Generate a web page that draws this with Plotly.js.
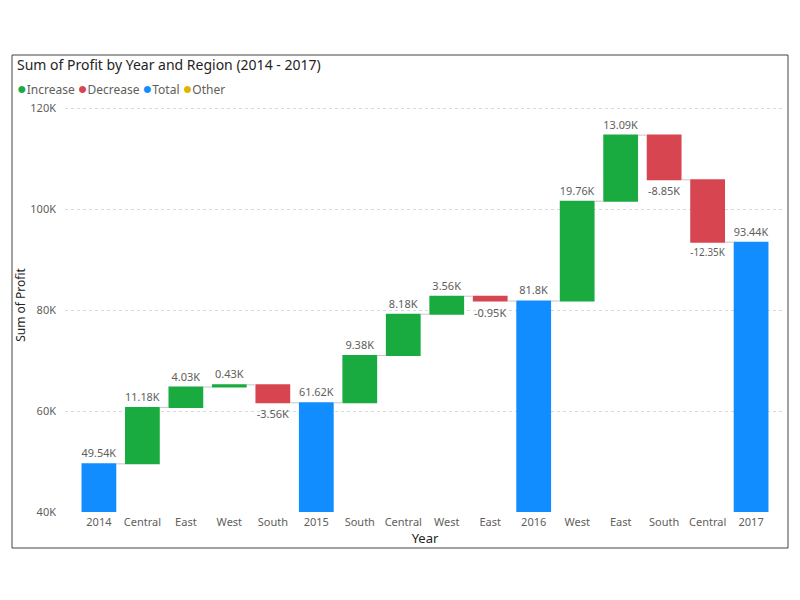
<!DOCTYPE html>
<html>
<head>
<meta charset="utf-8">
<script src="https://cdn.plot.ly/plotly-3.0.1.min.js"></script>
<style>
html,body{margin:0;padding:0;background:#fff;}
#chart{width:800px;height:600px;}
</style>
</head>
<body>
<div id="chart"></div>
<script>
const categories = ["2014","Central","East","West","South","2015","South","Central","West","East","2016","West","East","South","Central","2017"];
const measures = ["absolute","relative","relative","relative","relative","absolute","relative","relative","relative","relative","absolute","relative","relative","relative","relative","absolute"];
const values = [49540, 11180, 4030, 430, -3560, 61620, 9380, 8180, 3560, -950, 81800, 19760, 13090, -8850, -12350, 93440];
const yTickVals = [40000, 60000, 80000, 100000, 120000];
const yTickText = ["40K","60K","80K","100K","120K"];
const legendItems = ["Increase","Decrease","Total","Other"];
const legendColors = ["#1AAB40","#D64550","#118DFF","#E0B400"];

const positions = categories.map((c, i) => i);
const labels = values.map(v => (+(v / 1000).toFixed(2)) + "K");

const FONT = '"Segoe UI", "Noto Sans", "Open Sans", sans-serif';

const trace = {
  type: "waterfall",
  x: positions,
  y: values,
  measure: measures,
  text: labels,
  textposition: "outside",
  textfont: {family: FONT, size: 11, color: "#605E5C"},
  cliponaxis: false,
  increasing: {marker: {color: legendColors[0]}},
  decreasing: {marker: {color: legendColors[1]}},
  totals: {marker: {color: legendColors[2]}},
  connector: {line: {color: "#C8C6C4", width: 1}},
  showlegend: false,
  hoverinfo: "x+y"
};

const legendText = legendItems.map((t, i) =>
  '<span style="color:' + legendColors[i] + ';font-size:16px">●</span>' + t).join(' ');

const layout = {
  width: 800,
  height: 600,
  margin: {l: 65, r: 15, t: 98, b: 88},
  paper_bgcolor: "#fff",
  plot_bgcolor: "#fff",
  font: {family: FONT, color: "#605E5C"},
  bargap: 0.22,
  title: {
    text: "Sum of Profit by Year and Region (2014 - 2017)",
    x: 17 / 800, xanchor: "left",
    y: 1 - 65 / 600, yanchor: "middle",
    font: {family: FONT, size: 14, color: "#252423"}
  },
  xaxis: {
    range: [-0.78, 15.78],
    tickvals: positions,
    ticktext: categories,
    showgrid: false,
    zeroline: false,
    showline: false,
    ticks: "",
    ticklabelstandoff: 2,
    tickfont: {family: FONT, size: 11, color: "#605E5C"},
    title: {text: "Year", font: {family: FONT, size: 13, color: "#252423"}, standoff: 4}
  },
  yaxis: {
    range: [40000, 122000],
    tickvals: yTickVals,
    ticktext: yTickText,
    showgrid: true,
    gridcolor: "#D9D9D9",
    griddash: "dot",
    gridwidth: 1,
    zeroline: false,
    showline: false,
    ticks: "",
    ticklabelstandoff: 8,
    tickfont: {family: FONT, size: 11, color: "#605E5C"},
    title: {text: "Sum of Profit", font: {family: FONT, size: 12, color: "#252423"}, standoff: 2}
  },
  annotations: [{
    xref: "paper", yref: "paper",
    x: (15 - 65) / 720, y: (512 - 88) / 414,
    xanchor: "left", yanchor: "middle",
    showarrow: false,
    text: legendText,
    font: {family: FONT, size: 12, color: "#605E5C"}
  }],
  shapes: [{
    type: "rect", xref: "paper", yref: "paper",
    x0: (12 - 65) / 720, x1: (788 - 65) / 720,
    y0: (512 - 548) / 414, y1: (512 - 55) / 414,
    line: {color: "#444", width: 1}, fillcolor: "rgba(0,0,0,0)", layer: "below"
  }]
};

Plotly.newPlot("chart", [trace], layout, {displayModeBar: false, staticPlot: true});
</script>
</body>
</html>
